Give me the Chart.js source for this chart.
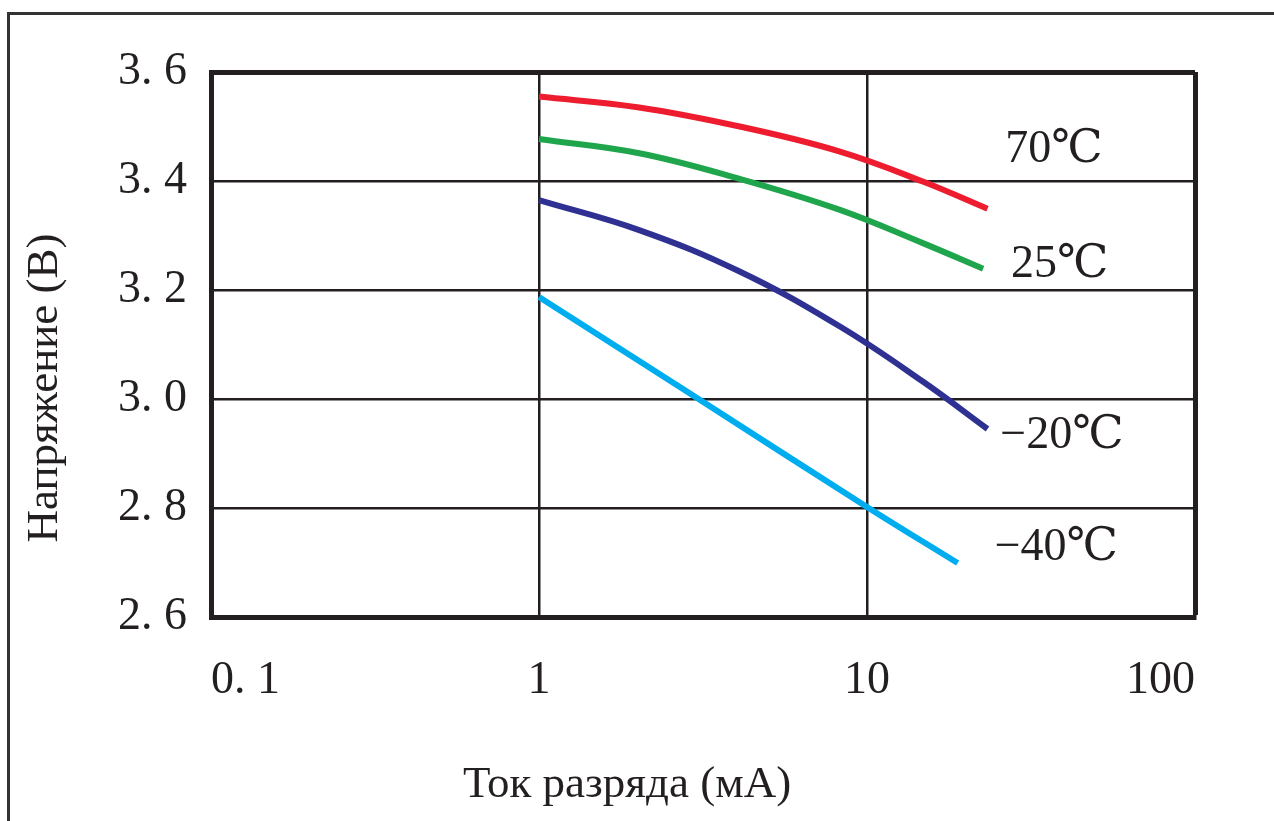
<!DOCTYPE html>
<html>
<head>
<meta charset="utf-8">
<script src="https://cdn.jsdelivr.net/npm/chart.js@4/dist/chart.umd.min.js"></script>
<style>
  html, body { margin: 0; padding: 0; background: #fff; overflow: hidden; }
  #frame { position: absolute; left: 7px; top: 12px; width: 1400px; height: 1000px;
           border-left: 3px solid #333; border-top: 3px solid #333; }
  #chart { position: absolute; left: 0; top: 0; }
</style>
</head>
<body>
<div id="frame"></div>
<canvas id="chart" width="1274" height="821"></canvas>
<script>
// Ток разряда (мА) и напряжение (В) для каждой температуры
const seriesNames = ['70℃', '25℃', '−20℃', '−40℃'];

const current70 = [1, 2.02, 4.09, 8.27, 14.8, 23.3];
const voltage70 = [3.555, 3.535, 3.500, 3.454, 3.399, 3.349];

const current25 = [1, 2.02, 4.09, 8.27, 14.8, 22.6];
const voltage25 = [3.477, 3.451, 3.404, 3.347, 3.286, 3.239];

const currentM20 = [1, 2.02, 4.09, 8.27, 14.8, 23.3];
const voltageM20 = [3.365, 3.310, 3.234, 3.133, 3.032, 2.945];

const currentM40 = [1, 3.1, 10, 18.9];
const voltageM40 = [3.187, 2.998, 2.802, 2.699];

// Деления осей
const xTicks = [0.1, 1, 10, 100];
const xTickLabels = ['0. 1', '1', '10', '100'];
const yTicks = [2.6, 2.8, 3.0, 3.2, 3.4, 3.6];
const yTickLabels = ['2. 6', '2. 8', '3. 0', '3. 2', '3. 4', '3. 6'];

// Где стоят подписи кривых (в единицах осей)
const labelAt = [[26.4, 3.457], [27.5, 3.246], [25.5, 2.932], [24.5, 2.727]];

const colors = ['#ED1C2E', '#1FA54B', '#2E3192', '#00AEEF'];
const serif = "'Liberation Serif', 'DejaVu Serif', 'Noto Sans CJK SC', serif";
const ink = '#231F20';

function toPoints(xs, ys) {
    return xs.map((x, i) => ({ x: x, y: ys[i] }));
}

const pointSets = [
    toPoints(current70, voltage70),
    toPoints(current25, voltage25),
    toPoints(currentM20, voltageM20),
    toPoints(currentM40, voltageM40)
];

// Подписи кривых и названия осей
const textPlugin = {
    id: 'texts',
    afterDraw(chart) {
        const ctx = chart.ctx;
        const xs = chart.scales.x, ys = chart.scales.y;
        ctx.save();
        ctx.fillStyle = ink;
        ctx.font = '46px ' + serif;
        ctx.textAlign = 'left';
        ctx.textBaseline = 'middle';
        seriesNames.forEach((name, i) => {
            ctx.fillText(name, xs.getPixelForValue(labelAt[i][0]), ys.getPixelForValue(labelAt[i][1]));
        });

        ctx.font = '45px ' + serif;
        ctx.textAlign = 'center';
        ctx.fillText('Ток разряда (мА)', 627, 785);

        ctx.translate(45, 388);
        ctx.rotate(-Math.PI / 2);
        ctx.fillText('Напряжение (В)', 0, 0);
        ctx.restore();
    }
};

new Chart(document.getElementById('chart').getContext('2d'), {
    type: 'line',
    data: {
        datasets: pointSets.map((pts, i) => ({
            label: seriesNames[i],
            data: pts,
            borderColor: colors[i],
            borderWidth: 6,
            borderCapStyle: 'butt',
            fill: false,
            pointRadius: 0,
            tension: 0.4
        }))
    },
    options: {
        responsive: false,
        animation: false,
        layout: { padding: { left: 0, right: 79, top: 72, bottom: 0 } },
        scales: {
            x: {
                type: 'logarithmic',
                min: 0.1,
                max: 100,
                afterBuildTicks: s => { s.ticks = xTicks.map(v => ({ value: v })); },
                afterFit: s => { s.height = 204; },
                border: { display: true, color: ink, width: 5 },
                grid: {
                    color: ink,
                    lineWidth: c => (c.tick && c.tick.value === 100 ? 5 : 2.5),
                    drawTicks: false
                },
                ticks: {
                    color: ink,
                    font: { family: serif, size: 46 },
                    padding: 36,
                    align: 'inner',
                    maxRotation: 0,
                    autoSkip: false,
                    callback: (v, i) => xTickLabels[i]
                }
            },
            y: {
                min: 2.6,
                max: 3.6,
                afterBuildTicks: s => { s.ticks = yTicks.map(v => ({ value: v })); },
                afterFit: s => { s.width = 211; },
                border: { display: true, color: ink, width: 5 },
                grid: {
                    color: ink,
                    lineWidth: c => (c.tick && Math.abs(c.tick.value - 3.6) < 1e-6 ? 5 : 2.5),
                    drawTicks: false
                },
                ticks: {
                    color: ink,
                    font: { family: serif, size: 46 },
                    padding: 24,
                    autoSkip: false,
                    callback: (v, i) => yTickLabels[i]
                }
            }
        },
        plugins: {
            legend: { display: false },
            tooltip: { enabled: false }
        }
    },
    plugins: [textPlugin]
});
</script>
</body>
</html>
